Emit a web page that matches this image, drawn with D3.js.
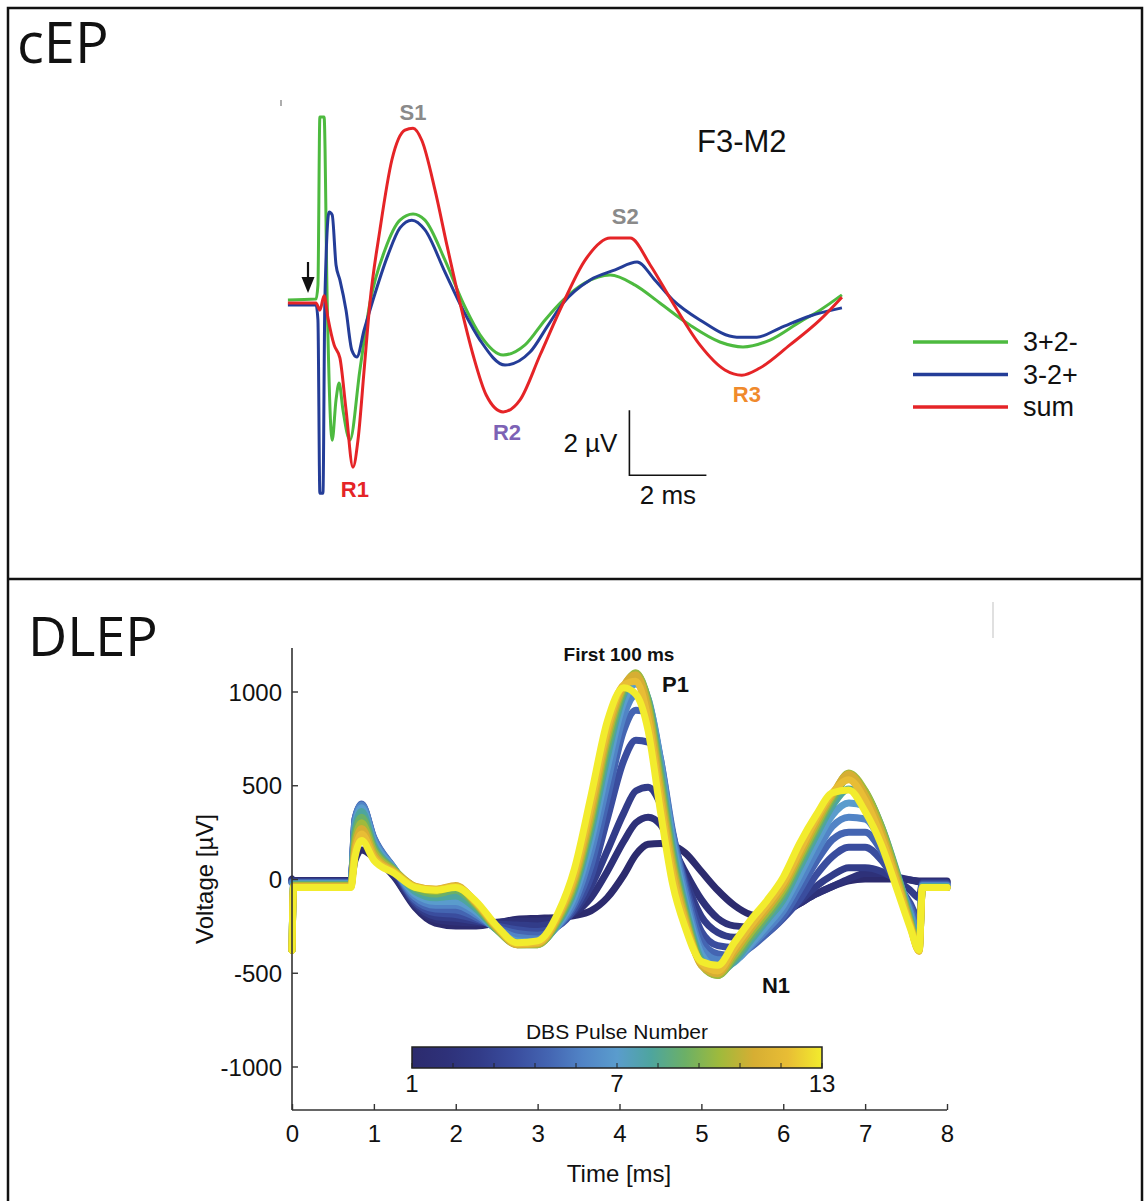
<!DOCTYPE html>
<html>
<head>
<meta charset="utf-8">
<script src="https://cdn.jsdelivr.net/npm/d3@7"></script>
<style>
  body { margin: 0; background: #fff; }
  svg { display: block; }
  text { font-family: "Liberation Sans", Arial, sans-serif; }
  .big { font-family: "Open Sans", "Noto Sans", sans-serif; }
</style>
</head>
<body>
<svg id="fig" width="1146" height="1201"></svg>
<script>
// ---------- cEP panel data (time in ms, voltage in uV) ----------
const greenT = [-0.47, 0.26, 0.31, 0.36, 0.47, 0.55, 0.68, 0.78, 0.86, 0.96, 1.14, 1.40, 1.66, 2.05, 2.44, 2.78, 3.09, 3.61, 4.08, 4.52, 5.12, 5.69, 6.21, 6.68, 7.25, 7.90, 8.55, 9.19, 9.97, 10.75, 11.35, 12.05, 12.83, 13.35, 13.92];
const greenV = [0.09, 0.12, 0.55, 5.72, 5.72, 0.09, -4.22, -2.98, -2.46, -3.29, -4.22, -2.06, 0, 1.63, 2.55, 2.74, 2.55, 1.32, 0, -0.98, -1.6, -1.29, -0.52, 0.09, 0.62, 0.86, 0.55, 0, -0.68, -1.2, -1.35, -1.14, -0.58, -0.22, 0.25];

const blueT = [-0.47, 0.26, 0.31, 0.36, 0.44, 0.49, 0.60, 0.68, 0.78, 0.88, 1.04, 1.19, 1.32, 1.51, 1.74, 2.13, 2.44, 2.75, 3.09, 3.61, 4.08, 4.52, 5.17, 5.82, 6.29, 6.68, 7.38, 8.03, 8.60, 9.06, 9.53, 10.23, 11.19, 11.71, 12.31, 13.09, 13.92];
const blueV = [-0.06, -0.06, -0.52, -5.85, -5.85, 0.09, 2.8, 2.71, 1.17, 0.71, -0.22, -1.45, -1.66, -0.83, 0.09, 1.48, 2.31, 2.55, 2.25, 0.95, -0.22, -1.14, -1.91, -1.51, -0.68, 0, 0.71, 1.02, 1.26, 0.71, 0.09, -0.52, -1.05, -1.05, -0.77, -0.4, -0.15];

const redT = [-0.47, 0.26, 0.36, 0.47, 0.57, 0.73, 0.88, 1.04, 1.22, 1.35, 1.51, 1.66, 1.92, 2.23, 2.57, 2.78, 3.01, 3.35, 3.66, 4.00, 4.34, 4.68, 5.12, 5.56, 6.08, 6.68, 7.25, 7.90, 8.42, 8.94, 9.53, 10.23, 10.88, 11.32, 11.79, 12.57, 13.35, 13.92];
const redV = [0, 0, -0.22, 0.22, -0.46, -1.29, -1.69, -3.29, -5.05, -4.22, -2.06, 0, 2.25, 4.4, 5.32, 5.38, 5.0, 3.48, 1.78, 0, -1.6, -2.83, -3.35, -2.98, -1.6, 0, 1.32, 2.0, 2.0, 1.17, 0, -1.29, -2.06, -2.22, -2.0, -1.29, -0.52, 0.18];

const legendNames = ["3+2-", "3-2+", "sum"];
const traceColors = ["#4dba3f", "#243d98", "#e52427"];

// peak labels: [text, time ms, voltage uV, colour]
const peakLabels = [
  ["S1", 2.78, 5.63, "#8a8a8a"],
  ["S2", 8.29, 2.43, "#8a8a8a"],
  ["R1", 1.27, -5.97, "#e52427"],
  ["R2", 5.22, -4.22, "#7d62b5"],
  ["R3", 11.45, -3.05, "#f08a2c"]
];

// ---------- DLEP panel data ----------
const timeMs = [0, 0.02, 0.72, 0.77, 0.85, 1.0, 1.25, 1.5, 1.75, 2.0, 2.25, 2.5, 2.75, 3.0, 3.25, 3.45, 3.65, 3.85, 4.05, 4.2, 4.35, 4.5, 4.65, 4.8, 5.0, 5.2, 5.4, 5.6, 5.8, 6.0, 6.2, 6.4, 6.6, 6.8, 7.0, 7.2, 7.4, 7.55, 7.66, 7.7, 8.0];

const pulse1  = [0, -8, -8, 100, 155, 115, 10, -150, -235, -250, -250, -235, -215, -210, -205, -195, -170, -100, 20, 130, 185, 190, 180, 140, 40, -60, -140, -190, -205, -180, -130, -80, -40, -10, 0, 0, 0, -5, -10, -10, -10];
const pulse2  = [-5, -10, -10, 250, 330, 180, 20, -140, -215, -230, -235, -230, -225, -225, -215, -180, -100, 40, 200, 300, 330, 290, 170, 40, -110, -210, -250, -255, -230, -180, -130, -80, -40, 0, 30, 30, 10, -5, -15, -15, -15];
const pulse3  = [-10, -13, -13, 290, 370, 200, 40, -130, -200, -210, -225, -240, -245, -250, -230, -170, -40, 150, 350, 470, 490, 400, 200, 0, -200, -285, -310, -300, -250, -190, -120, -40, 20, 60, 60, 40, -10, -60, -100, -20, -20];
const pulse4  = [-15, -17, -17, 320, 395, 215, 50, -120, -180, -190, -215, -250, -270, -280, -250, -160, 10, 320, 630, 740, 730, 560, 240, -20, -280, -355, -365, -340, -290, -210, -110, 20, 120, 170, 170, 100, -30, -130, -220, -25, -25];
const pulse5  = [-18, -20, -20, 320, 400, 220, 55, -110, -160, -165, -205, -260, -290, -300, -250, -140, 70, 430, 790, 900, 890, 640, 250, -40, -330, -400, -410, -365, -290, -200, -60, 90, 210, 250, 250, 150, -20, -150, -250, -30, -30];
const pulse6  = [-20, -22, -22, 310, 395, 215, 55, -95, -140, -140, -190, -265, -310, -320, -250, -120, 140, 510, 870, 980, 940, 640, 230, -70, -370, -430, -430, -360, -270, -170, -20, 140, 280, 330, 320, 200, 0, -170, -300, -35, -35];
const pulse7  = [-380, -25, -25, 290, 380, 200, 55, -80, -120, -120, -175, -270, -330, -335, -245, -90, 200, 590, 940, 1040, 960, 620, 200, -110, -400, -475, -445, -350, -250, -140, 20, 190, 340, 405, 390, 250, 10, -190, -340, -40, -40];
const pulse8  = [-380, -28, -28, 260, 360, 180, 50, -65, -100, -90, -160, -270, -340, -345, -235, -60, 250, 650, 980, 1075, 960, 590, 160, -140, -430, -500, -440, -330, -220, -110, 60, 230, 390, 480, 450, 280, 20, -200, -360, -40, -40];
const pulse9  = [-380, -32, -32, 230, 330, 165, 50, -50, -80, -60, -145, -270, -350, -350, -225, -40, 290, 700, 1005, 1095, 950, 550, 120, -170, -450, -515, -425, -310, -200, -80, 90, 260, 420, 540, 470, 280, 10, -220, -375, -45, -45];
const pulse10 = [-380, -35, -35, 200, 300, 150, 45, -40, -65, -40, -135, -265, -350, -350, -215, -20, 320, 740, 1020, 1100, 930, 510, 90, -190, -460, -515, -410, -290, -180, -60, 110, 280, 440, 565, 470, 270, 0, -230, -380, -45, -45];
const pulse11 = [-380, -38, -38, 170, 270, 130, 40, -38, -55, -35, -130, -260, -350, -345, -205, 0, 350, 770, 1030, 1090, 900, 470, 60, -210, -460, -505, -390, -270, -160, -40, 130, 300, 450, 560, 450, 250, -20, -240, -385, -45, -45];
const pulse12 = [-380, -42, -42, 140, 240, 115, 35, -40, -55, -40, -125, -255, -345, -340, -195, 20, 390, 800, 1035, 1055, 850, 420, 20, -230, -450, -490, -370, -250, -140, -20, 150, 320, 460, 530, 420, 220, -40, -250, -385, -45, -45];
const pulse13 = [-380, -45, -45, 120, 205, 100, 30, -45, -60, -45, -120, -250, -340, -330, -180, 55, 440, 840, 1020, 985, 790, 360, -30, -255, -440, -460, -340, -220, -115, 10, 190, 340, 460, 475, 360, 180, -70, -260, -380, -45, -45];

const pulses = [pulse1, pulse2, pulse3, pulse4, pulse5, pulse6, pulse7, pulse8, pulse9, pulse10, pulse11, pulse12, pulse13];
const pulseColors = ["#2c2b6e", "#2e3179", "#323c89", "#3a4d9e", "#4465b2", "#5184c6", "#5a9ccd", "#4ea59e", "#6cb066", "#9fba3c", "#d6ae33", "#e8bd35", "#f2ec2d"];

const xTicks = [0, 1, 2, 3, 4, 5, 6, 7, 8];
const yTicks = [-1000, -500, 0, 500, 1000];
const cbarLabels = [1, 7, 13];

const svg = d3.select("#fig");

// frame
svg.append("rect").attr("x", 8).attr("y", 8).attr("width", 1134).attr("height", 1200)
  .attr("fill", "none").attr("stroke", "#111").attr("stroke-width", 2.5);
svg.append("line").attr("x1", 8).attr("x2", 1142).attr("y1", 579).attr("y2", 579)
  .attr("stroke", "#111").attr("stroke-width", 2.5);

svg.append("text").attr("class", "big").attr("x", 17).attr("y", 63)
  .attr("font-size", 56).attr("fill", "#111").text("cEP");
svg.append("text").attr("class", "big").attr("x", 28).attr("y", 656)
  .attr("font-size", 54).attr("fill", "#111").text("DLEP");

// ================= cEP panel =================
const xTop = d3.scaleLinear().domain([0, 2]).range([306, 383]);
const yTop = d3.scaleLinear().domain([0, 2]).range([303, 238]);
const lineTop = d3.line().x(d => xTop(d[0])).y(d => yTop(d[1])).curve(d3.curveMonotoneX);

const topSeries = [
  d3.zip(greenT, greenV),
  d3.zip(blueT, blueV),
  d3.zip(redT, redV)
];

// draw green first, then blue, red on top
topSeries.forEach((s, i) => {
  svg.append("path").datum(s)
    .attr("d", lineTop)
    .attr("fill", "none")
    .attr("stroke", traceColors[i])
    .attr("stroke-width", 3)
    .attr("stroke-linejoin", "round");
});

// stimulus arrow
const arrowX = 308;
svg.append("line").attr("x1", arrowX).attr("x2", arrowX).attr("y1", 262).attr("y2", 280)
  .attr("stroke", "#111").attr("stroke-width", 2.2);
svg.append("path").attr("d", `M${arrowX - 6.5},277 L${arrowX + 6.5},277 L${arrowX},293 Z`).attr("fill", "#111");

// small stray mark at the top-left of the trace area
svg.append("line").attr("x1", 281).attr("x2", 281).attr("y1", 100).attr("y2", 106)
  .attr("stroke", "#777").attr("stroke-width", 1.2);

peakLabels.forEach(p => {
  svg.append("text").attr("x", xTop(p[1])).attr("y", yTop(p[2]))
    .attr("text-anchor", "middle").attr("font-size", 22).attr("font-weight", "bold")
    .attr("fill", p[3]).text(p[0]);
});

svg.append("text").attr("x", 697).attr("y", 152).attr("font-size", 31)
  .attr("fill", "#111").text("F3-M2");

// scale bar: 2 uV / 2 ms
const sbT = 8.4, sbV = -5.3;
svg.append("path")
  .attr("d", `M${xTop(sbT)},${yTop(sbV + 2)} L${xTop(sbT)},${yTop(sbV)} L${xTop(sbT + 2)},${yTop(sbV)}`)
  .attr("fill", "none").attr("stroke", "#111").attr("stroke-width", 1.6);
svg.append("text").attr("x", xTop(sbT) - 12).attr("y", yTop(sbV + 1) + 9)
  .attr("text-anchor", "end").attr("font-size", 26).attr("fill", "#111").text("2 \u00b5V");
svg.append("text").attr("x", xTop(sbT + 1)).attr("y", yTop(sbV) + 29)
  .attr("text-anchor", "middle").attr("font-size", 26).attr("fill", "#111").text("2 ms");

// legend
const legend = svg.append("g").attr("transform", "translate(913,342)");
legendNames.forEach((n, i) => {
  legend.append("line").attr("x1", 0).attr("x2", 95).attr("y1", i * 32.5).attr("y2", i * 32.5)
    .attr("stroke", traceColors[i]).attr("stroke-width", 3.5);
  legend.append("text").attr("x", 110).attr("y", i * 32.5 + 9).attr("font-size", 27)
    .attr("fill", "#111").text(n);
});

// ================= DLEP panel =================
const x = d3.scaleLinear().domain([0, 8]).range([292, 947]);
const y = d3.scaleLinear().domain([-1232, 1232]).range([1110, 648]);

const line = d3.line().x(d => x(d[0])).y(d => y(d[1])).curve(d3.curveMonotoneX);

pulses.forEach((p, i) => {
  svg.append("path").datum(d3.zip(timeMs, p))
    .attr("d", line)
    .attr("fill", "none")
    .attr("stroke", pulseColors[i])
    .attr("stroke-width", 7)
    .attr("stroke-linejoin", "round")
    .attr("stroke-linecap", "round");
});

// axes, MATLAB style: ticks inside
const xAxis = svg.append("g").attr("transform", "translate(0,1110)")
  .call(d3.axisBottom(x).tickValues(xTicks).tickFormat(d => String(d))
    .tickSize(-6).tickPadding(15).tickSizeOuter(0));
const yAxis = svg.append("g").attr("transform", "translate(292,0)")
  .call(d3.axisLeft(y).tickValues(yTicks).tickFormat(d => String(d))
    .tickSize(-6).tickPadding(12).tickSizeOuter(0));
[xAxis, yAxis].forEach(g => {
  g.select(".domain").attr("stroke", "#333").attr("stroke-width", 1.6);
  g.selectAll(".tick line").attr("stroke", "#333").attr("stroke-width", 1.4);
  g.selectAll(".tick text").attr("font-size", 24).attr("fill", "#111");
});
yAxis.selectAll(".tick text").attr("dy", "0.36em").attr("x", -10);
yAxis.select(".domain").attr("d", `M0,648V1110`);
xAxis.select(".domain").attr("d", `M292,0H947`);

svg.append("text").attr("x", 619).attr("y", 1182).attr("text-anchor", "middle")
  .attr("font-size", 24).attr("fill", "#111").text("Time [ms]");
svg.append("text").attr("transform", "translate(213,879) rotate(-90)")
  .attr("text-anchor", "middle").attr("font-size", 24).attr("fill", "#111").text("Voltage [\u00b5V]");
svg.append("text").attr("x", 619).attr("y", 661).attr("text-anchor", "middle")
  .attr("font-size", 19).attr("font-weight", "bold").attr("fill", "#111").text("First 100 ms");

svg.append("text").attr("x", x(4.52)).attr("y", y(995)).attr("font-size", 22)
  .attr("font-weight", "bold").attr("fill", "#111").text("P1");
svg.append("text").attr("x", x(5.74)).attr("y", y(-608)).attr("font-size", 22)
  .attr("font-weight", "bold").attr("fill", "#111").text("N1");

// stray grey mark at top-right of the DLEP panel
svg.append("line").attr("x1", 993).attr("x2", 993).attr("y1", 602).attr("y2", 638)
  .attr("stroke", "#ccc").attr("stroke-width", 1.2);

// colorbar
const cb = d3.scaleLinear().domain([1, 13]).range([412, 822]);
const defs = svg.append("defs");
const grad = defs.append("linearGradient").attr("id", "parula");
pulseColors.forEach((c, i) => {
  grad.append("stop").attr("offset", (i / (pulseColors.length - 1)) * 100 + "%").attr("stop-color", c);
});
svg.append("rect").attr("x", cb(1)).attr("y", 1047).attr("width", cb(13) - cb(1)).attr("height", 21)
  .attr("fill", "url(#parula)").attr("stroke", "#222").attr("stroke-width", 1.5);
d3.range(1, 13.01, 1.2).forEach(v => {
  svg.append("line").attr("x1", cb(v)).attr("x2", cb(v)).attr("y1", 1068).attr("y2", 1063)
    .attr("stroke", "#222").attr("stroke-width", 1);
});
cbarLabels.forEach(v => {
  svg.append("text").attr("x", cb(v)).attr("y", 1092).attr("text-anchor", "middle")
    .attr("font-size", 24).attr("fill", "#111").text(v);
});
svg.append("text").attr("x", cb(7)).attr("y", 1039).attr("text-anchor", "middle")
  .attr("font-size", 21).attr("fill", "#111").text("DBS Pulse Number");
</script>
</body>
</html>
